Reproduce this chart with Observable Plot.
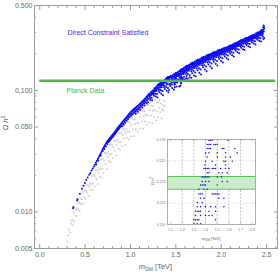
<!DOCTYPE html>
<html><head><meta charset="utf-8">
<script src="https://cdn.jsdelivr.net/npm/d3@7"></script>
<script src="https://cdn.jsdelivr.net/npm/@observablehq/plot@0.6"></script>
<style>
html,body{margin:0;padding:0;background:#fff;}
#wrap{position:relative;width:280px;height:274px;overflow:hidden;}
#wrap svg{display:block;}
#insetBox{position:absolute;left:145px;top:134px;}
</style></head><body><div id="wrap"><div id="mainBox"></div><div id="insetBox"></div></div>
<script>
// ---------- data ----------
const xTicks = [0, 0.5, 1, 1.5, 2, 2.5];
const xMinorTicks = [0.1,0.2,0.3,0.4,0.6,0.7,0.8,0.9,1.1,1.2,1.3,1.4,1.6,1.7,1.8,1.9,2.1,2.2,2.3,2.4,2.6];
const yTicks = [0.005, 0.01, 0.05, 0.1, 0.5];
const yMinorTicks = [0.006,0.007,0.008,0.009,0.02,0.03,0.04,0.06,0.07,0.08,0.09,0.2,0.3,0.4];
const planck = 0.12;
const planckBand = [0.1183, 0.1213];
const insetXTicks = [1.1,1.2,1.3,1.4,1.5,1.6,1.7,1.8];
const insetYTicks = [0.110,0.115,0.120,0.125,0.130];
const insetGridX = [1.2,1.3,1.4,1.5,1.6,1.7];
const insetGridY = [0.115,0.120,0.125];
const seriesLabels = ["Direct Constraint Satisfied", "Planck Data"];

const grayPoints = [
[0.302,.0057],[0.311,.0064],[0.318,.0072],[0.333,.0068],[0.345,.0080],
[0.353,.0085],[0.360,.0078],[0.367,.0086],[0.374,.0099],[0.381,.0083],[0.389,.0093],[0.396,.0105],
[0.404,.0092],[0.411,.0107],[0.418,.0117],[0.426,.0105],[0.433,.0120],[0.440,.0102],[0.447,.0118],
[0.453,.0127],[0.460,.0115],[0.467,.0127],[0.474,.0145],[0.481,.0118],[0.489,.0132],[0.496,.0150],
[0.504,.0127],[0.511,.0149],[0.518,.0165],[0.526,.0144],[0.533,.0166],[0.540,.0135],[0.547,.0160],
[0.553,.0173],[0.560,.0152],[0.567,.0169],[0.574,.0197],[0.581,.0152],[0.589,.0172],[0.596,.0201],
[0.604,.0163],[0.611,.0196],[0.618,.0221],[0.626,.0187],[0.633,.0220],[0.640,.0170],[0.647,.0210],
[0.653,.0230],[0.660,.0196],[0.667,.0222],[0.674,.0270],[0.681,.0192],[0.689,.0227],[0.696,.0274],
[0.704,.0210],[0.711,.0265],[0.718,.0305],[0.726,.0248],[0.733,.0301],[0.740,.0224],[0.747,.0283],
[0.753,.0311],[0.760,.0262],[0.767,.0297],[0.774,.0358],[0.781,.0257],[0.789,.0300],[0.796,.0356],
[0.804,.0278],[0.811,.0342],[0.818,.0388],[0.826,.0320],[0.833,.0381],[0.840,.0290],[0.847,.0358],
[0.853,.0391],[0.860,.0333],[0.867,.0375],[0.874,.0447],[0.881,.0327],[0.889,.0378],[0.896,.0445],
[0.904,.0351],[0.911,.0428],[0.918,.0484],[0.926,.0400],[0.933,.0473],[0.940,.0358],[0.947,.0443],
[0.953,.0484],[0.960,.0407],[0.967,.0460],[0.974,.0551],[0.981,.0394],[0.989,.0458],[0.996,.0545],
[1.004,.0418],[1.011,.0518],[1.018,.0589],[1.026,.0477],[1.033,.0571],[1.040,.0420],[1.047,.0528],
[1.053,.0579],[1.060,.0480],[1.067,.0545],[1.074,.0659],[1.081,.0459],[1.089,.0538],[1.096,.0645],
[1.104,.0486],[1.111,.0609],[1.118,.0695],[1.126,.0556],[1.133,.0671],[1.140,.0483],[1.147,.0615],
[1.153,.0678],[1.160,.0554],[1.167,.0634],[1.174,.0779],[1.181,.0522],[1.189,.0623],[1.196,.0759],
[1.204,.0547],[1.211,.0687],[1.218,.0784],[1.226,.0621],[1.233,.0749],[1.240,.0536],[1.247,.0681],
[1.253,.0747],[1.260,.0608],[1.267,.0691],[1.274,.0838],[1.281,.0569],[1.289,.0670],[1.296,.0803],
[1.304,.0600],[1.312,.0720],[1.318,.0835],[1.327,.0660],[1.335,.0780],[1.342,.0590],[1.348,.0700],
[1.355,.0760],[1.362,.0680],[1.370,.0820],[1.378,.0740]
];

const bluePoints = [
// thin strip, low mass
[0.368,.0107],[0.372,.0110],[0.412,.0124],[0.416,.0127],[0.442,.0141],[0.466,.0155],[0.482,.0164],[0.497,.0173],
[0.512,.0183],[0.528,.0192],[0.545,.0202],[0.557,.0209],[0.571,.0219],[0.584,.0228],[0.596,.0237],[0.607,.0245],
[0.618,.0254],[0.628,.0263],[0.639,.0273],[0.648,.0281],[0.657,.0289],[0.666,.0297],[0.675,.0306],[0.684,.0316],
[0.692,.0326],[0.700,.0334],[0.708,.0342],[0.716,.0351],[0.722,.0356],[0.730,.0365],[0.737,.0372],[0.743,.0378],[0.750,.0385],
[0.622,.0246],[0.645,.0265],[0.672,.0292],[0.695,.0317],[0.712,.0330],[0.728,.0345],[0.745,.0362],
// strip, medium mass
[0.758,.0392],[0.758,.0376],[0.766,.0398],[0.766,.0383],[0.774,.0406],[0.774,.0390],[0.782,.0412],[0.782,.0396],
[0.790,.0420],[0.790,.0404],[0.798,.0427],[0.798,.0411],[0.806,.0434],[0.806,.0417],[0.814,.0442],[0.814,.0424],
[0.822,.0450],[0.822,.0433],[0.830,.0458],[0.830,.0441],[0.838,.0466],[0.838,.0448],[0.846,.0476],[0.846,.0457],
[0.854,.0485],[0.854,.0466],[0.862,.0494],[0.862,.0475],[0.870,.0502],[0.870,.0483],[0.878,.0511],[0.878,.0491],
[0.886,.0519],[0.886,.0499],[0.894,.0528],[0.894,.0507],[0.902,.0537],[0.902,.0513],[0.910,.0546],[0.910,.0508],
[0.918,.0555],[0.918,.0530],[0.926,.0565],[0.926,.0525],[0.934,.0575],[0.934,.0549],[0.942,.0584],[0.942,.0543],
[0.950,.0594],[0.950,.0567],[0.958,.0604],[0.958,.0562],[0.966,.0615],[0.966,.0587],[0.974,.0625],[0.974,.0581],
[0.982,.0636],[0.982,.0607],[0.990,.0647],[0.990,.0601],[0.998,.0657],[0.998,.0627],[1.006,.0666],[1.006,.0619],
[1.014,.0674],[1.014,.0644],[1.022,.0683],[1.022,.0635],[1.030,.0692],[1.030,.0661],[1.038,.0701],[1.038,.0652],
[1.046,.0710],[1.046,.0678],[1.054,.0718],[1.054,.0668],[1.062,.0727],[1.062,.0694],[1.070,.0736],[1.070,.0684],
[1.078,.0744],[1.078,.0711],[1.086,.0753],[1.086,.0700],[1.094,.0762],[1.094,.0728],[1.102,.0772],[1.102,.0718],
[1.110,.0782],[1.110,.0747],[1.118,.0794],[1.118,.0738],[1.126,.0804],[1.126,.0768],[1.134,.0816],[1.134,.0759],
[1.142,.0827],[1.142,.0790],[1.150,.0839],[1.150,.0780],[1.158,.0851],[1.158,.0813],[1.166,.0864],[1.166,.0803],
[1.174,.0877],[1.174,.0838],[1.182,.0890],[1.182,.0828],[1.190,.0903],[1.190,.0862],[1.198,.0916],[1.198,.0852],
[1.058,.0642],[1.082,.0668],[1.106,.0690],[1.130,.0722],[1.154,.0750],[1.178,.0780],[1.194,.0800],
// dense band
[1.202,.0935],[1.205,.0915],[1.208,.0893],[1.211,.0928],[1.214,.0867],[1.217,.0906],[1.219,.0834],
[1.221,.0956],[1.224,.0911],[1.227,.0970],[1.230,.0932],[1.233,.0872],[1.236,.0952],[1.238,.0832],
[1.243,.1000],[1.246,.0959],[1.249,.0925],[1.252,.0976],[1.255,.0993],[1.258,.0942],[1.259,.0905],
[1.262,.1042],[1.265,.1011],[1.268,.0978],[1.271,.1030],[1.274,.0939],[1.277,.0998],[1.279,.0891],
[1.281,.1056],[1.284,.0990],[1.287,.1075],[1.290,.1021],[1.293,.0934],[1.296,.1049],[1.298,.0875],
[1.306,.1044],[1.309,.0996],[1.312,.1068],[1.315,.1092],[1.318,.1020],[1.319,.0967],
[1.328,.1057],[1.334,.1005],[1.337,.1083],[1.339,.0940],
[1.344,.1062],[1.353,.0990],[1.358,.0914],
[1.369,.1062],[1.378,.1091],[1.379,.1027],
[1.394,.1069],[1.399,.0993],[1.413,.1049],[1.418,.0964],[1.439,.1089],[1.425,.1010],
[1.442,.1313],[1.459,.1048],[1.461,.1306],[1.467,.1338],[1.478,.1017],
[1.483,.1355],[1.492,.1305],[1.495,.1340],[1.488,.1060],
[1.502,.1399],[1.505,.1340],[1.511,.1377],[1.517,.1315],[1.508,.1075],
[1.521,.1393],[1.527,.1427],[1.530,.1332],[1.536,.1381],[1.538,.1079],
[1.543,.1447],[1.546,.1353],[1.552,.1392],[1.555,.1431],[1.558,.1314],[1.549,.1092],
[1.562,.1498],[1.565,.1434],[1.568,.1365],[1.571,.1474],[1.577,.1406],
[1.581,.1492],[1.584,.1368],[1.587,.1530],[1.590,.1426],[1.596,.1480],
[1.603,.1550],[1.606,.1448],[1.609,.1363],[1.612,.1491],[1.615,.1533],[1.618,.1406],[1.619,.1312],
[1.622,.1599],[1.625,.1529],[1.628,.1455],[1.631,.1573],[1.634,.1367],[1.637,.1498],
[1.641,.1586],[1.644,.1451],[1.647,.1627],[1.650,.1514],[1.653,.1334],[1.656,.1573],
[1.663,.1644],[1.666,.1533],[1.669,.1441],[1.672,.1580],[1.675,.1626],[1.678,.1487],[1.679,.1386],
[1.682,.1695],[1.685,.1619],[1.688,.1538],[1.691,.1666],[1.694,.1443],[1.697,.1586],[1.699,.1325],
[1.701,.1678],[1.704,.1533],[1.707,.1721],[1.710,.1600],[1.713,.1407],[1.716,.1663],[1.718,.1310],
[1.723,.1738],[1.726,.1620],[1.729,.1522],[1.732,.1670],[1.735,.1719],[1.738,.1571],[1.739,.1463],
[1.742,.1790],[1.745,.1710],[1.748,.1625],[1.751,.1760],[1.754,.1525],[1.757,.1675],[1.759,.1400],
[1.761,.1772],[1.764,.1620],[1.767,.1817],[1.770,.1691],[1.773,.1489],[1.776,.1756],[1.778,.1353],
[1.783,.1834],[1.786,.1712],[1.789,.1610],[1.792,.1762],[1.795,.1813],[1.798,.1661],[1.799,.1549],
[1.802,.1886],[1.805,.1804],[1.808,.1717],[1.811,.1855],[1.814,.1614],[1.817,.1768],[1.819,.1486],
[1.821,.1866],[1.824,.1711],[1.827,.1913],[1.830,.1784],[1.833,.1577],[1.836,.1851],[1.838,.1438],
[1.843,.1929],[1.846,.1804],[1.849,.1700],[1.852,.1856],[1.855,.1908],[1.858,.1752],[1.859,.1638],
[1.862,.1978],[1.865,.1894],[1.868,.1806],[1.871,.1946],[1.874,.1702],[1.877,.1858],[1.879,.1572],
[1.881,.1954],[1.884,.1798],[1.887,.2000],[1.890,.1870],[1.893,.1662],[1.896,.1938],[1.898,.1522],
[1.903,.2015],[1.906,.1889],[1.909,.1785],[1.912,.1942],[1.915,.1994],[1.918,.1837],[1.919,.1722],
[1.922,.2067],[1.925,.1983],[1.928,.1894],[1.931,.2036],[1.934,.1789],[1.937,.1947],[1.939,.1657],
[1.941,.2046],[1.944,.1887],[1.947,.2094],[1.950,.1962],[1.953,.1750],[1.956,.2030],[1.958,.1606],
[1.963,.2110],[1.966,.1982],[1.969,.1875],[1.972,.2035],[1.975,.2089],[1.978,.1928],[1.979,.1811],
[1.982,.2163],[1.985,.2077],[1.988,.1986],[1.991,.2131],[1.994,.1878],[1.997,.2040],[1.999,.1744],
[2.001,.2140],[2.004,.1979],[2.007,.2188],[2.010,.2054],[2.013,.1840],[2.016,.2124],[2.018,.1695],
[2.023,.2200],[2.026,.2074],[2.029,.1968],[2.032,.2126],[2.035,.2179],[2.038,.2021],[2.039,.1905],
[2.042,.2250],[2.045,.2166],[2.048,.2078],[2.051,.2218],[2.054,.1974],[2.057,.2130],[2.059,.1844],
[2.061,.2230],[2.064,.2074],[2.067,.2276],[2.070,.2146],[2.073,.1938],[2.076,.2214],[2.078,.1798],
[2.083,.2293],[2.086,.2168],[2.089,.2064],[2.092,.2220],[2.095,.2272],[2.098,.2116],[2.099,.2002],
[2.102,.2350],[2.105,.2266],[2.108,.2178],[2.111,.2318],[2.114,.2074],[2.117,.2230],[2.119,.1944],
[2.121,.2338],[2.124,.2182],[2.127,.2384],[2.130,.2254],[2.133,.2046],[2.136,.2322],[2.138,.1906],
[2.143,.2409],[2.146,.2284],[2.149,.2180],[2.152,.2336],[2.155,.2388],[2.158,.2232],[2.159,.2118],
[2.162,.2474],[2.165,.2390],[2.168,.2301],[2.171,.2442],[2.174,.2196],[2.177,.2353],[2.179,.2065],
[2.181,.2465],[2.184,.2306],[2.187,.2512],[2.190,.2380],[2.193,.2169],[2.196,.2449],[2.198,.2026],
[2.203,.2538],[2.206,.2411],[2.209,.2305],[2.212,.2464],[2.215,.2517],[2.218,.2358],[2.219,.2241],
[2.222,.2599],[2.225,.2515],[2.228,.2425],[2.231,.2568],[2.234,.2318],[2.237,.2478],[2.239,.2186],
[2.241,.2586],[2.244,.2427],[2.247,.2634],[2.250,.2502],[2.253,.2290],[2.256,.2570],[2.258,.2147],
[2.263,.2658],[2.266,.2531],[2.269,.2425],[2.272,.2584],[2.275,.2637],[2.278,.2478],[2.279,.2361],
[2.282,.2719],[2.285,.2635],[2.288,.2545],[2.291,.2688],[2.294,.2438],[2.297,.2598],[2.299,.2306],
[2.301,.2708],[2.304,.2549],[2.307,.2756],[2.310,.2623],[2.313,.2410],[2.316,.2692],[2.318,.2267],
[2.323,.2784],[2.326,.2655],[2.329,.2548],[2.332,.2709],[2.335,.2762],[2.338,.2602],[2.339,.2484],
[2.342,.2849],[2.345,.2763],[2.348,.2671],[2.351,.2817],[2.354,.2563],[2.357,.2725],[2.359,.2428],
[2.361,.2842],[2.364,.2678],[2.367,.2892],[2.370,.2755],[2.373,.2535],[2.376,.2826],[2.378,.2387],
[2.383,.2923],[2.386,.2789],[2.389,.2678],[2.392,.2845],[2.395,.2900],[2.398,.2734],[2.399,.2611],
[2.402,.3003],[2.405,.2912],[2.408,.2815],[2.411,.2969],[2.414,.2702],[2.417,.2872],[2.419,.2560],
[2.421,.3012],[2.424,.2837],[2.427,.3064],[2.430,.2918],[2.433,.2685],[2.436,.2994],[2.438,.2527],
[2.443,.3114],[2.446,.2970],[2.449,.2850],[2.452,.3030],[2.455,.3090],[2.458,.2910],[2.459,.2778],
[2.462,.3300],[2.465,.3180],[2.467,.3420],[2.469,.3050],[2.471,.3350],[2.473,.2700],[2.474,.3230],[2.466,.2650],
// upper part of the band, extra density
[1.445,.1303],[1.464,.1317],[1.486,.1372],[1.492,.1337],
[1.505,.1388],[1.511,.1355],[1.516,.1322],[1.524,.1404],[1.529,.1366],[1.535,.1313],
[1.546,.1466],[1.552,.1427],[1.557,.1369],[1.565,.1486],[1.571,.1450],[1.576,.1414],
[1.584,.1505],[1.589,.1463],[1.595,.1405],[1.606,.1572],[1.612,.1529],[1.617,.1465],
[1.625,.1586],[1.631,.1547],[1.636,.1507],[1.644,.1600],[1.649,.1555],[1.655,.1492],
[1.666,.1667],[1.672,.1621],[1.677,.1552],[1.685,.1680],[1.691,.1638],[1.696,.1595],
[1.704,.1692],[1.709,.1644],[1.715,.1576],[1.726,.1763],[1.732,.1714],[1.737,.1640],
[1.745,.1775],[1.751,.1730],[1.756,.1685],[1.764,.1787],[1.769,.1736],[1.775,.1666],
[1.786,.1859],[1.792,.1808],[1.797,.1732],[1.805,.1870],[1.811,.1824],[1.816,.1778],
[1.824,.1882],[1.829,.1830],[1.835,.1758],[1.846,.1955],[1.852,.1903],[1.857,.1825],
[1.865,.1962],[1.871,.1915],[1.876,.1868],[1.884,.1969],[1.889,.1917],[1.895,.1844],
[1.906,.2041],[1.912,.1989],[1.917,.1910],[1.925,.2052],[1.931,.2004],[1.936,.1957],
[1.944,.2062],[1.949,.2009],[1.955,.1935],[1.966,.2137],[1.972,.2083],[1.977,.2003],
[1.985,.2147],[1.991,.2099],[1.996,.2050],[2.004,.2156],[2.009,.2102],[2.015,.2027],
[2.026,.2227],[2.032,.2174],[2.037,.2095],[2.045,.2234],[2.051,.2187],[2.056,.2140],
[2.064,.2245],[2.069,.2193],[2.075,.2120],[2.086,.2319],[2.092,.2267],[2.097,.2189],
[2.105,.2334],[2.111,.2287],[2.116,.2240],[2.124,.2353],[2.129,.2301],[2.135,.2228],
[2.146,.2435],[2.152,.2383],[2.157,.2305],[2.165,.2458],[2.171,.2411],[2.176,.2363],
[2.184,.2480],[2.189,.2428],[2.195,.2354],[2.206,.2565],[2.212,.2512],[2.217,.2432],
[2.225,.2584],[2.231,.2536],[2.236,.2488],[2.244,.2602],[2.249,.2549],[2.255,.2475],
[2.266,.2685],[2.272,.2632],[2.277,.2552],[2.285,.2704],[2.291,.2656],[2.296,.2608],
[2.304,.2724],[2.309,.2671],[2.315,.2596],[2.326,.2811],[2.332,.2757],[2.337,.2677],
[2.345,.2833],[2.351,.2784],[2.356,.2736],[2.364,.2859],[2.369,.2804],[2.375,.2727],
[2.386,.2950],[2.392,.2895],[2.397,.2811],[2.405,.2986],[2.411,.2934],[2.416,.2883],
[2.424,.3029],[2.429,.2971],[2.435,.2889],[2.446,.3144],[2.452,.3084],[2.457,.2994],
// points inside the Planck window (shown in the inset)
[1.429,.1298],[1.443,.1298],[1.457,.1298],[1.590,.1298],
[1.414,.1288],[1.429,.1288],[1.443,.1288],[1.471,.1288],[1.486,.1288],[1.500,.1288],
[1.414,.1279],[1.429,.1279],[1.443,.1279],[1.543,.1279],[1.557,.1279],[1.651,.1279],
[1.400,.1269],[1.429,.1269],[1.500,.1269],[1.571,.1269],[1.671,.1269],
[1.414,.1259],[1.500,.1259],[1.571,.1259],[1.614,.1259],
[1.400,.1249],[1.457,.1249],[1.557,.1249],[1.571,.1249],[1.629,.1249],
[1.393,.1240],[1.486,.1240],[1.571,.1240],
[1.386,.1232],[1.400,.1232],[1.414,.1232],[1.429,.1232],[1.457,.1232],[1.471,.1232],[1.486,.1232],[1.529,.1232],[1.571,.1232],[1.600,.1232],
[1.414,.1222],[1.429,.1222],[1.514,.1222],[1.543,.1222],[1.586,.1222],
[1.371,.1212],[1.386,.1212],[1.400,.1212],[1.414,.1212],[1.429,.1212],[1.500,.1212],[1.536,.1212],
[1.371,.1201],[1.400,.1201],[1.429,.1201],[1.543,.1201],[1.586,.1201],
[1.357,.1193],[1.371,.1193],[1.386,.1193],[1.400,.1193],[1.500,.1193],
[1.343,.1183],[1.386,.1183],[1.414,.1183],
[1.343,.1172],[1.357,.1172],[1.371,.1172],[1.457,.1172],[1.471,.1172],[1.486,.1172],[1.500,.1172],[1.514,.1172],
[1.357,.1162],[1.386,.1162],[1.514,.1162],[1.557,.1162],
[1.329,.1152],[1.371,.1152],
[1.329,.1142],[1.357,.1142],[1.400,.1142],[1.443,.1142],[1.486,.1142],[1.557,.1142],
[1.314,.1131],[1.329,.1131],[1.343,.1131],[1.357,.1131],[1.429,.1131],[1.486,.1131],
[1.314,.1121],[1.357,.1121],[1.400,.1121],[1.429,.1121],[1.457,.1121],
[1.300,.1111],[1.314,.1111],[1.329,.1111],[1.343,.1111],[1.486,.1111],
[1.300,.1102],[1.329,.1102],[1.357,.1102]
];

// ---------- styles ----------
const FONT = "'Liberation Sans', Arial, sans-serif";
const BLUE = "#0a0aff";
const GRAY = "#d0d0d0";
const GREEN = "#4db848";
const AXIS = "#666";
const FRAME = "#9a9a9a";
const blank = () => "";

// ---------- main chart ----------
const main = Plot.plot({
  width: 280, height: 274,
  marginLeft: 34, marginRight: 3, marginTop: 5, marginBottom: 26,
  style: {fontFamily: FONT, fontSize: "7px", color: AXIS, background: "white"},
  x: {domain: [-0.058, 2.62]},
  y: {type: "log", domain: [0.005, 0.5]},
  marks: [
    Plot.dot(grayPoints, {x: d => d[0], y: d => d[1], r: 1.0, fill: GRAY, stroke: null}),
    Plot.dot(bluePoints, {x: d => d[0], y: d => d[1], r: 1.0, fill: BLUE, stroke: null}),
    Plot.ruleY([planck], {x1: 0, x2: 2.6, stroke: GREEN, strokeWidth: 2.6}),
    Plot.text([seriesLabels[0]], {x: 0.305, y: 0.30, text: d => d, textAnchor: "start", fill: "#3434f4", fontSize: 7}),
    Plot.text([seriesLabels[1]], {x: 0.295, y: 0.0993, text: d => d, textAnchor: "start", fill: GREEN, fontSize: 7}),
    Plot.frame({stroke: FRAME}),
    Plot.axisX({anchor: "bottom", ticks: xTicks, tickSize: -4, tickPadding: 7.5, tickFormat: d3.format(".1f"), label: null, stroke: FRAME}),
    Plot.axisX({anchor: "bottom", ticks: xMinorTicks, tickSize: -2, tickFormat: blank, label: null, stroke: FRAME}),
    Plot.axisX({anchor: "top", ticks: xTicks, tickSize: -4, tickFormat: blank, label: null, stroke: FRAME}),
    Plot.axisX({anchor: "top", ticks: xMinorTicks, tickSize: -2, tickFormat: blank, label: null, stroke: FRAME}),
    Plot.axisY({anchor: "left", ticks: yTicks, tickSize: -4, tickPadding: 6, tickFormat: d3.format(".3f"), label: null, stroke: FRAME}),
    Plot.axisY({anchor: "left", ticks: yMinorTicks, tickSize: -2, tickFormat: blank, label: null, stroke: FRAME}),
    Plot.axisY({anchor: "right", ticks: yTicks, tickSize: -4, tickFormat: blank, label: null, stroke: FRAME}),
    Plot.axisY({anchor: "right", ticks: yMinorTicks, tickSize: -2, tickFormat: blank, label: null, stroke: FRAME})
  ]
});
document.getElementById("mainBox").appendChild(main);

function massLabel(sel, x, y, size) {
  const t = sel.append("text").attr("x", x).attr("y", y).attr("text-anchor", "middle")
    .attr("font-family", FONT).attr("font-size", size).attr("fill", AXIS);
  t.append("tspan").attr("font-style", "italic").text("m");
  t.append("tspan").attr("font-size", size * 0.68).attr("dy", size * 0.22).text("DM");
  t.append("tspan").attr("dy", -size * 0.22).text(" [TeV]");
}
function omegaLabel(sel, x, y, size) {
  const t = sel.append("text").attr("transform", `translate(${x},${y}) rotate(-90)`).attr("text-anchor", "middle")
    .attr("font-family", FONT).attr("font-size", size).attr("fill", AXIS);
  t.append("tspan").text("Ω ");
  t.append("tspan").attr("font-style", "italic").text("h");
  t.append("tspan").attr("font-size", size * 0.68).attr("dy", -size * 0.38).text("2");
}
const msvg = d3.select(main);
massLabel(msvg, 155.5, 269, 7.5);
omegaLabel(msvg, 7.8, 123, 7.5);

// ---------- inset ----------
const inset = Plot.plot({
  width: 115, height: 110,
  marginLeft: 22, marginRight: 5, marginTop: 5, marginBottom: 20,
  style: {fontFamily: FONT, fontSize: "3.6px", color: "#777", background: "white"},
  x: {domain: [1.074, 1.828]},
  y: {domain: [0.11, 0.13]},
  marks: [
    Plot.ruleX(insetGridX, {stroke: "#9a9a9a", strokeWidth: 0.6, strokeDasharray: "2,1.4"}),
    Plot.ruleY(insetGridY, {stroke: "#c8c8c8", strokeWidth: 0.5, strokeDasharray: "2,1.4"}),
    Plot.rect([planckBand], {y1: d => d[0], y2: d => d[1], fill: "#cbeccb"}),
    Plot.ruleY(planckBand, {stroke: GREEN, strokeWidth: 0.9}),
    Plot.dot(bluePoints, {x: d => d[0], y: d => d[1], r: 0.75, fill: BLUE, stroke: null, clip: true}),
    Plot.frame({stroke: FRAME, strokeWidth: 0.8}),
    Plot.axisX({anchor: "bottom", ticks: insetXTicks, tickSize: -1.5, tickPadding: 5, tickFormat: d3.format(".1f"), label: null, stroke: FRAME, strokeWidth: 0.6}),
    Plot.axisX({anchor: "top", ticks: insetXTicks, tickSize: -1.5, tickFormat: blank, label: null, stroke: FRAME, strokeWidth: 0.6}),
    Plot.axisY({anchor: "left", ticks: insetYTicks, tickSize: -1.5, tickPadding: 3.5, tickFormat: d3.format(".3f"), label: null, stroke: FRAME, strokeWidth: 0.6}),
    Plot.axisY({anchor: "right", ticks: insetYTicks, tickSize: -1.5, tickFormat: blank, label: null, stroke: FRAME, strokeWidth: 0.6})
  ]
});
document.getElementById("insetBox").appendChild(inset);
const isvg = d3.select(inset);
massLabel(isvg, 66, 106, 4.2);
omegaLabel(isvg, 8.5, 47, 4.2);
</script>
</body></html>
